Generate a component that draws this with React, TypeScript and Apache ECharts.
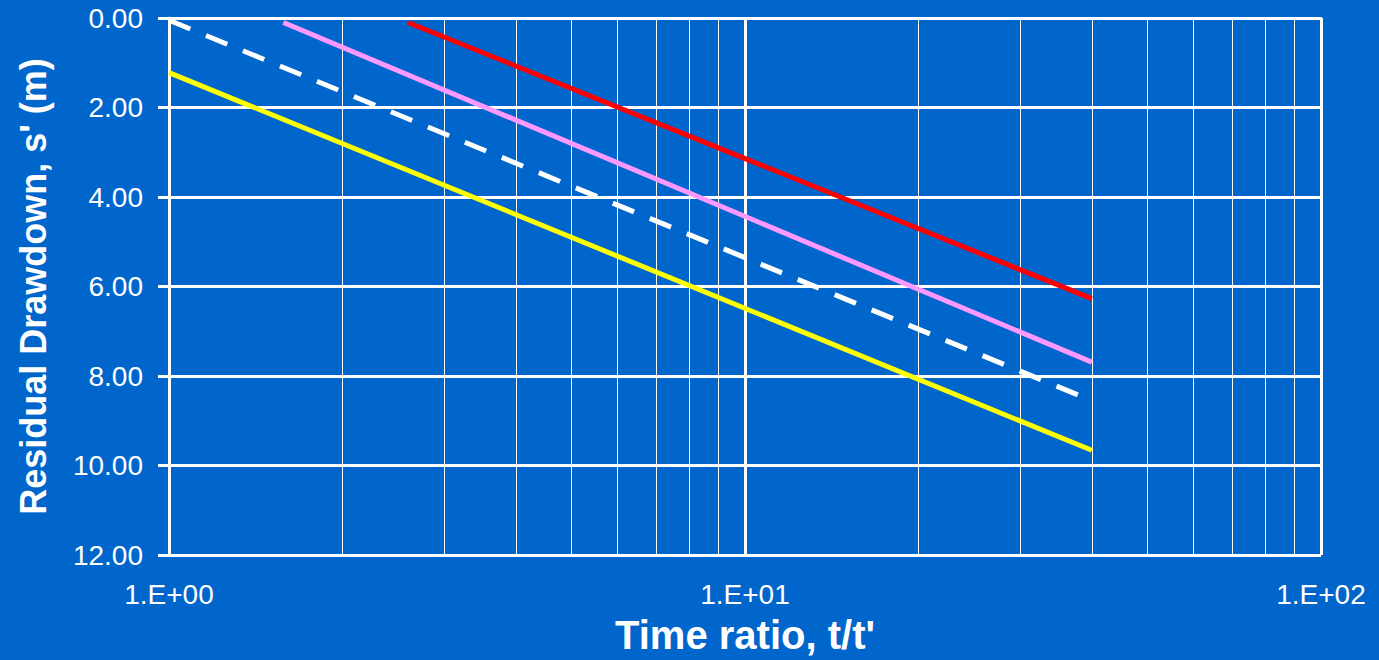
import React, { useEffect, useRef } from "react";
import * as echarts from "echarts";

// Time ratio t/t' (x) and residual drawdown s' in m (y) for each line
const redX = [2.6, 40];
const redY = [0.1, 6.27];
const pinkX = [1.58, 40];
const pinkY = [0.1, 7.69];
const whiteX = [1, 40];
const whiteY = [0.05, 8.55];
const yellowX = [1, 40];
const yellowY = [1.22, 9.66];

// Minor vertical grid positions on the log axis
const minorGridX = [2, 3, 4, 5, 6, 7, 8, 9, 20, 30, 40, 50, 60, 70, 80, 90];

// Tick labels
const xTickValues = [1, 10, 100];
const xTickLabels = ["1.E+00", "1.E+01", "1.E+02"];
const yTickLabels = ["0.00", "2.00", "4.00", "6.00", "8.00", "10.00", "12.00"];

const xTitle = "Time ratio, t/t'";
const yTitle = "Residual Drawdown, s' (m)";

const pairs = (xs: number[], ys: number[]) => xs.map((x, i) => [x, ys[i]]);

export default function App() {
  const ref = useRef<HTMLDivElement>(null);
  useEffect(() => {
    if (!ref.current) return;
    document.body.style.margin = "0";
    document.documentElement.style.overflow = "hidden";
    const chart = echarts.init(ref.current, undefined, { renderer: "svg" });
    const font = "'Liberation Sans', Arial, sans-serif";
    const lineSeries = (name: string, data: number[][], color: string, type: any = "solid") => ({
      name,
      type: "line",
      data,
      showSymbol: false,
      symbol: "none",
      z: 5,
      lineStyle: { color, width: 5, type, cap: "butt" },
    });
    chart.setOption({
      animation: false,
      backgroundColor: "#0066CC",
      grid: { left: 169, right: 58, top: 18, bottom: 99, containLabel: false },
      xAxis: {
        type: "log",
        logBase: 10,
        min: 1,
        max: 100,
        name: xTitle,
        nameLocation: "middle",
        nameGap: 60,
        nameTextStyle: { color: "#fff", fontSize: 40, fontWeight: "bold", fontFamily: font },
        axisLine: { show: true, lineStyle: { color: "#fff", width: 3 } },
        axisTick: { show: true, inside: false, length: 10, lineStyle: { color: "#fff", width: 3 } },
        axisLabel: {
          color: "#fff",
          fontSize: 28,
          fontFamily: font,
          margin: 25,
          formatter: (v: number) => {
            const i = xTickValues.findIndex((t) => Math.abs(t - v) / t < 1e-6);
            return i >= 0 ? xTickLabels[i] : "";
          },
        },
        splitLine: { show: true, lineStyle: { color: "#fff", width: 3 } },
        minorTick: { show: false },
      },
      yAxis: {
        type: "value",
        inverse: true,
        min: 0,
        max: 12,
        interval: 2,
        name: yTitle,
        nameLocation: "middle",
        nameGap: 118,
        nameRotate: 90,
        nameTextStyle: { color: "#fff", fontSize: 36, fontWeight: "bold", fontFamily: font },
        axisLine: { show: true, lineStyle: { color: "#fff", width: 3 } },
        axisTick: { show: true, inside: false, length: 11, lineStyle: { color: "#fff", width: 3 } },
        axisLabel: {
          color: "#fff",
          fontSize: 28,
          fontFamily: font,
          margin: 26,
          formatter: (v: number) => yTickLabels[Math.round(v / 2)] ?? "",
        },
        splitLine: { show: true, lineStyle: { color: "#fff", width: 3 } },
      },
      series: [
        {
          type: "line",
          data: [],
          z: 1,
          silent: true,
          markLine: {
            silent: true,
            symbol: ["none", "none"],
            label: { show: false },
            animation: false,
            lineStyle: { color: "#ffffff", width: 1, type: "solid" },
            data: minorGridX.map((x) => ({ xAxis: x })),
          },
        },
        lineSeries("Yellow", pairs(yellowX, yellowY), "#FFFF00"),
        lineSeries("White", pairs(whiteX, whiteY), "#FFFFFF", [23, 17]),
        lineSeries("Pink", pairs(pinkX, pinkY), "#FF99FF"),
        lineSeries("Red", pairs(redX, redY), "#FF0000"),
      ],
    });
    return () => chart.dispose();
  }, []);
  return <div ref={ref} style={{ width: 1379, height: 660, overflow: "hidden" }} />;
}
